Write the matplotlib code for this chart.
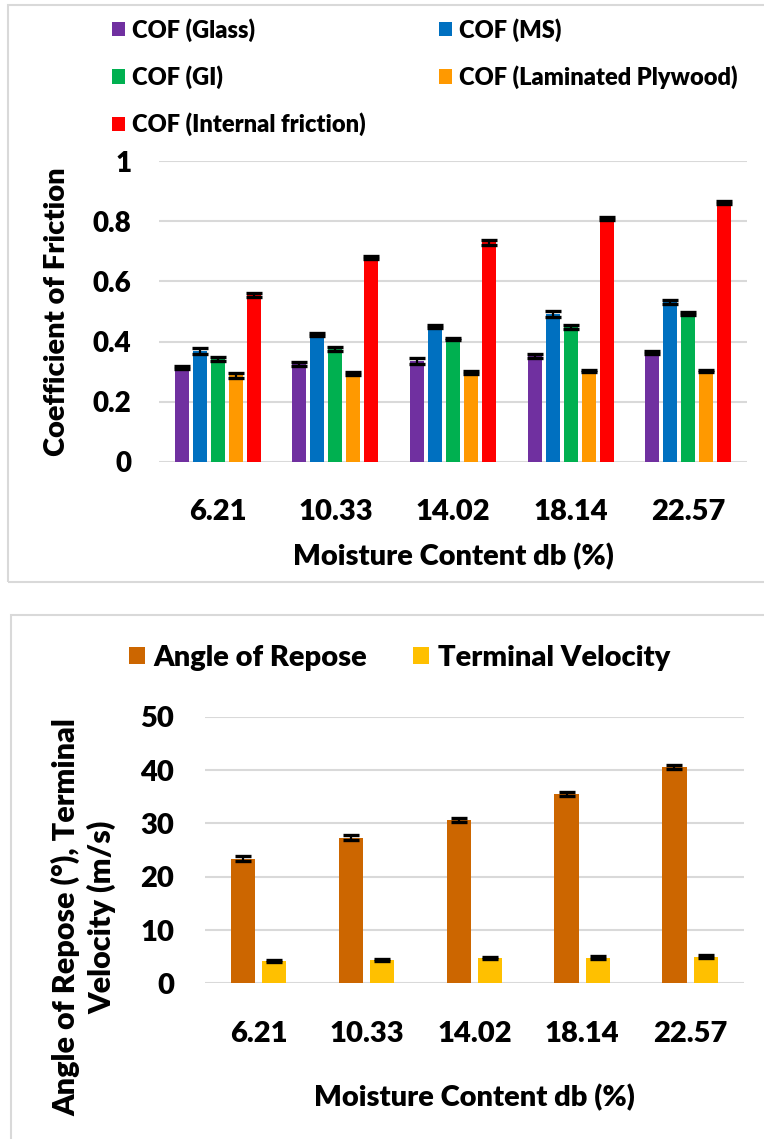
import numpy as np
import matplotlib.pyplot as plt
from matplotlib.patches import Rectangle

plt.rcParams['font.family'] = ['Lato', 'DejaVu Sans']
plt.rcParams['font.weight'] = 'heavy'
plt.rcParams['axes.labelweight'] = 'heavy'

# --- data ---
moisture = ['6.21', '10.33', '14.02', '18.14', '22.57']

cof_names = ['COF (Glass)', 'COF (MS)', 'COF (GI)', 'COF (Laminated Plywood)', 'COF (Internal friction)']
cof_colors = ['#7030A0', '#0070C0', '#00B050', '#FF9900', '#FF0000']
cof_glass = [0.313, 0.325, 0.336, 0.352, 0.363]
cof_ms = [0.369, 0.422, 0.450, 0.492, 0.531]
cof_gi = [0.341, 0.376, 0.409, 0.448, 0.492]
cof_ply = [0.287, 0.295, 0.297, 0.301, 0.301]
cof_int = [0.556, 0.680, 0.730, 0.811, 0.863]
err_glass = [0.004, 0.006, 0.010, 0.008, 0.004]
err_ms = [0.010, 0.005, 0.005, 0.009, 0.006]
err_gi = [0.006, 0.007, 0.004, 0.007, 0.005]
err_ply = [0.007, 0.005, 0.004, 0.003, 0.004]
err_int = [0.007, 0.006, 0.008, 0.005, 0.005]

repose = [23.4, 27.35, 30.6, 35.5, 40.6]
terminal = [4.26, 4.45, 4.70, 4.84, 5.03]
err_repose = [0.4, 0.4, 0.4, 0.4, 0.4]
err_terminal = [0.2, 0.2, 0.2, 0.2, 0.2]

W, H = 764, 1139
fig = plt.figure(figsize=(W / 100, H / 100), dpi=100)
grid_c = '#d9d9d9'
ekw = dict(ecolor='black', elinewidth=1.6, capsize=5.5, capthick=2.4)

# panel borders
fig.patches.append(Rectangle((8 / W, 1 - 582 / H), 770 / W, 577 / H, transform=fig.transFigure,
                             fill=False, ec=grid_c, lw=1.5, zorder=0))
fig.patches.append(Rectangle((11 / W, -0.01), 770 / W, 1 - 615 / H + 0.01, transform=fig.transFigure,
                             fill=False, ec=grid_c, lw=1.5, zorder=0))


def style(ax, ylim, yticks, ylabels):
    ax.set_facecolor('none')
    ax.set_ylim(*ylim)
    ax.set_xlim(-0.5, 4.5)
    ax.set_yticks(yticks)
    ax.set_yticklabels(ylabels, fontweight='heavy')
    ax.set_xticks(np.arange(5))
    ax.set_xticklabels(moisture, fontweight='heavy')
    for s in ax.spines.values():
        s.set_visible(False)
    ax.yaxis.grid(True, color=grid_c, lw=1.5)
    ax.set_axisbelow(True)
    ax.tick_params(length=0, labelsize=21)
    ax.tick_params(axis='x', pad=27)
    ax.tick_params(axis='y', pad=20)


# --- top chart ---
ax1 = fig.add_axes([159 / W, 1 - 461.7 / H, 588 / W, 300.4 / H])
x = np.arange(5)
step, bw = 0.153, 0.119
series = [cof_glass, cof_ms, cof_gi, cof_ply, cof_int]
errs = [err_glass, err_ms, err_gi, err_ply, err_int]
bars = []
for i, (vals, e) in enumerate(zip(series, errs)):
    b = ax1.bar(x + (i - 2) * step, vals, bw, yerr=e, color=cof_colors[i], label=cof_names[i],
                error_kw=ekw, zorder=2)
    bars.append(b)
style(ax1, (0, 1), [0, 0.2, 0.4, 0.6, 0.8, 1], ['0', '0.2', '0.4', '0.6', '0.8', '1'])
ax1.tick_params(axis='y', labelsize=20)
ax1.set_xlabel('Moisture Content db (%)', fontsize=21, fontweight='heavy', labelpad=13)
ax1.set_ylabel('Coefficient of Friction', fontsize=21, fontweight='heavy')
ax1.yaxis.set_label_coords((70 - 159) / 588, 0.5)

lkw = dict(frameon=False, prop=dict(size=17, weight='heavy'), handlelength=0.55, handleheight=0.55,
           handletextpad=0.3, borderpad=0, borderaxespad=0, labelspacing=1.0, loc='upper left')
fig.legend([bars[0], bars[2], bars[4]], [cof_names[0], cof_names[2], cof_names[4]],
           bbox_to_anchor=(112 / W, 1 - 18 / H), **lkw)
fig.legend([bars[1], bars[3]], [cof_names[1], cof_names[3]],
           bbox_to_anchor=(439 / W, 1 - 18 / H), **lkw)

# --- bottom chart ---
ax2 = fig.add_axes([204.7 / W, 1 - 983.3 / H, 539.3 / W, 266.4 / H])
step2, bw2 = 0.29, 0.226
b1 = ax2.bar(x - step2 / 2, repose, bw2, yerr=err_repose, color='#CC6600', error_kw=ekw, zorder=2)
b2 = ax2.bar(x + step2 / 2, terminal, bw2, yerr=err_terminal, color='#FFC000', error_kw=ekw, zorder=2)
style(ax2, (0, 50), [0, 10, 20, 30, 40, 50], ['0', '10', '20', '30', '40', '50'])
ax2.tick_params(axis='y', pad=22)
ax2.set_xlabel('Moisture Content db (%)', fontsize=21, fontweight='heavy', labelpad=27)
fig.text(84 / W, 1 - 917 / H, 'Angle of Repose (°), Terminal\nVelocity (m/s)', rotation=90,
         fontsize=22, fontweight='heavy', ha='center', va='center', multialignment='center',
         linespacing=1.3)

lkw2 = dict(lkw, prop=dict(size=21, weight='heavy'), handlelength=0.55, handleheight=0.55)
fig.legend([b1], ['Angle of Repose'], bbox_to_anchor=(129 / W, 1 - 645 / H), **lkw2)
fig.legend([b2], ['Terminal Velocity'], bbox_to_anchor=(413 / W, 1 - 645 / H), **lkw2)

fig.savefig('out.png', dpi=100)
